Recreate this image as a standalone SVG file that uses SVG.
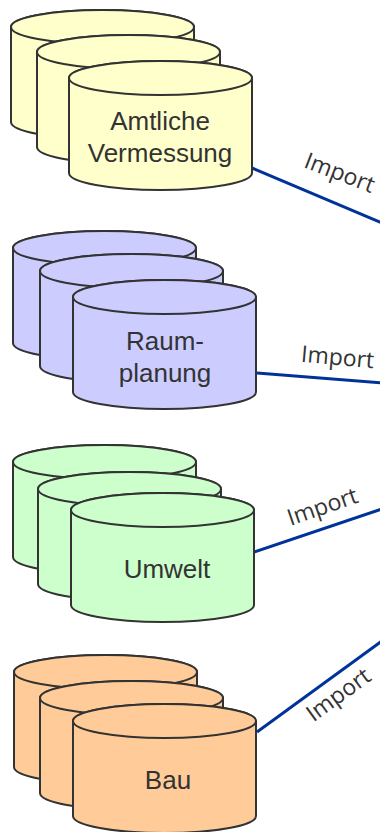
<svg xmlns="http://www.w3.org/2000/svg" xmlns:xlink="http://www.w3.org/1999/xlink" width="380" height="832" viewBox="0 0 380 832">
<style>
.cyl path,.cyl ellipse{stroke:#333;stroke-width:2;stroke-linejoin:round}
.y{fill:#ffffcc}.p{fill:#ccccff}.g{fill:#ccffcc}.o{fill:#ffcc99}
.t{font-family:"Liberation Sans",Arial,sans-serif;font-size:26px;fill:#333;text-anchor:middle}
.c{stroke:#003399;stroke-width:3;fill:none}
.l{font-family:"Open Sans","Liberation Sans",sans-serif;font-size:23px;fill:#333;text-anchor:middle}
</style>
<defs>
<g id="cyl" class="cyl">
<path d="M0,17 V112 A91.5,17 0 0 0 183,112 V17 A91.5,17 0 0 0 0,17 Z"/>
<ellipse cx="91.5" cy="17" rx="91.5" ry="17"/>
</g>
</defs>
<g id="connectors">
<line class="c" x1="252" y1="168" x2="382" y2="223"/>
<line class="c" x1="257" y1="373" x2="382" y2="383"/>
<line class="c" x1="254" y1="552" x2="382" y2="509"/>
<line class="c" x1="257" y1="732" x2="382" y2="641"/>
<text class="l" transform="translate(337,180) rotate(21)">Import</text>
<text class="l" transform="translate(337,365) rotate(5)">Import</text>
<text class="l" transform="translate(325,514) rotate(-19)">Import</text>
<text class="l" transform="translate(343,701) rotate(-36)">Import</text>
</g>
<g id="amtliche-vermessung" class="y">
<use xlink:href="#cyl" x="11" y="10"/>
<use xlink:href="#cyl" x="37" y="35"/>
<use xlink:href="#cyl" x="69" y="61"/>
<text class="t" x="160" y="130">Amtliche</text>
<text class="t" x="160" y="162">Vermessung</text>
</g>
<g id="raumplanung" class="p">
<use xlink:href="#cyl" x="13" y="231"/>
<use xlink:href="#cyl" x="40" y="254"/>
<use xlink:href="#cyl" x="73" y="280"/>
<text class="t" x="165" y="350">Raum-</text>
<text class="t" x="165" y="382">planung</text>
</g>
<g id="umwelt" class="g">
<use xlink:href="#cyl" x="13" y="445"/>
<use xlink:href="#cyl" x="38" y="472"/>
<use xlink:href="#cyl" x="71" y="493"/>
<text class="t" x="167" y="578">Umwelt</text>
</g>
<g id="bau" class="o">
<use xlink:href="#cyl" x="14" y="655"/>
<use xlink:href="#cyl" x="40" y="681"/>
<use xlink:href="#cyl" x="73" y="704"/>
<text class="t" x="168" y="789">Bau</text>
</g>
</svg>
